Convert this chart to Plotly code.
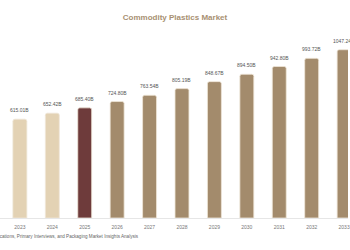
import plotly.graph_objects as go

years = ["2023", "2024", "2025", "2026", "2027", "2028", "2029", "2030", "2031", "2032", "2033"]
values = [615.01, 652.42, 685.40, 724.80, 763.54, 805.19, 848.67, 894.50, 942.80, 993.72, 1047.24]
labels = ["615.01B", "652.42B", "685.40B", "724.80B", "763.54B", "805.19B", "848.67B", "894.50B", "942.80B", "993.72B", "1047.24B"]
colors = ["#e3d2b4", "#e3d2b4", "#6e3b3b"] + ["#a38b6c"] * 8

fig = go.Figure(go.Bar(
    x=years, y=values,
    marker=dict(color=colors, line=dict(color="#efe6d8", width=0.8), cornerradius=2),
    width=0.43,
))

for i, (v, lab) in enumerate(zip(values, labels)):
    fig.add_annotation(x=i, y=v, text=lab, showarrow=False, yanchor="bottom", yshift=4,
                       font=dict(size=5, color="#555555", family="Arial"))

fig.add_annotation(
    text="Source: Secondary Research, Company Publications, Primary Interviews, and Packaging Market Insights Analysis",
    xref="paper", yref="paper", x=0.405, xanchor="right", y=-0.1, yanchor="middle",
    showarrow=False, font=dict(size=4.6, color="#666666", family="Arial"),
)

fig.update_layout(
    width=350, height=250,
    margin=dict(l=0, r=0, t=30, b=32),
    paper_bgcolor="white", plot_bgcolor="white",
    title=dict(text="<b>Commodity Plastics Market</b>", x=0.5, xanchor="center", y=0.93, yanchor="middle",
               font=dict(size=8, color="#a89072", family="Arial")),
    xaxis=dict(type="category", range=[-0.613, 10.12], showline=True, linecolor="#e6e6e6", linewidth=1,
               tickfont=dict(size=5, color="#777777", family="Arial"), ticks="", showgrid=False,
               ticklabelstandoff=4),
    yaxis=dict(range=[0, 1170], visible=False, showgrid=False),
    showlegend=False,
)

fig.write_html("out.html")
